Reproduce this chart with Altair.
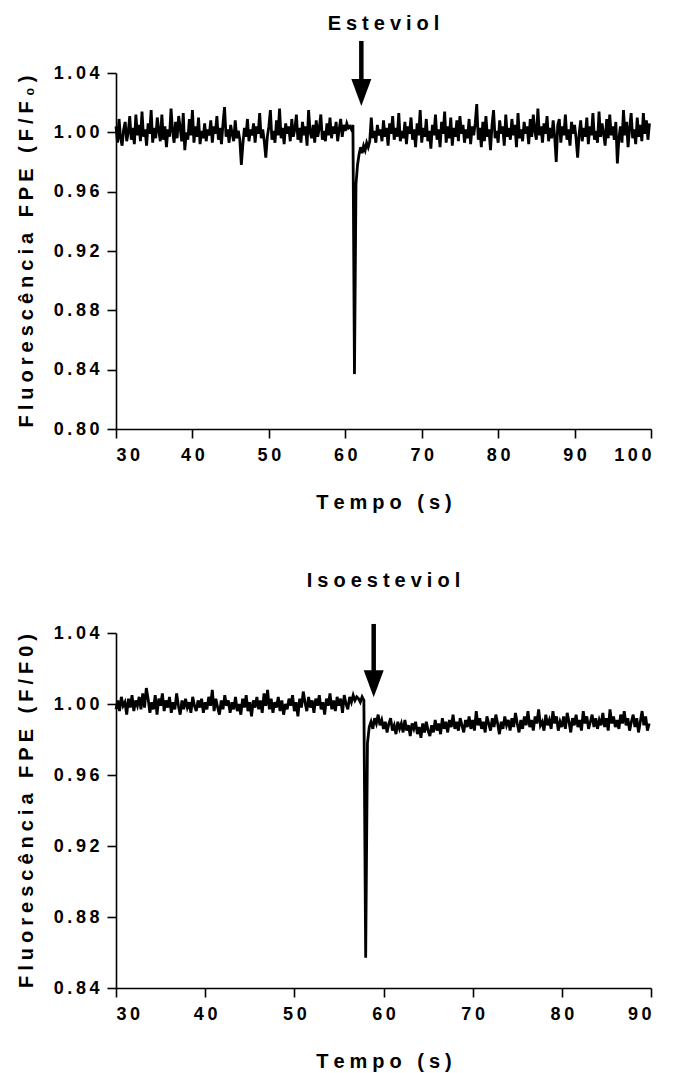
import altair as alt
import pandas as pd

# ---------------- data ----------------
top_t0 = 30.0
top_step = 0.2
top_values = [
    1.004, 0.993, 1.009, 0.996, 0.991, 1.002, 1.007, 0.994, 1.000, 1.011,
    0.995, 1.003, 0.992, 1.012, 0.998, 1.005, 0.994, 1.014, 0.997, 1.002,
    0.991, 1.006, 0.999, 1.015, 0.993, 1.003, 0.996, 1.010, 1.001, 0.994,
    1.012, 0.995, 1.004, 0.990, 1.002, 0.997, 1.016, 1.001, 0.993, 1.007,
    0.996, 1.011, 1.003, 0.994, 1.013, 0.988, 1.000, 0.995, 1.009, 0.998,
    1.015, 0.993, 1.004, 0.997, 1.010, 0.992, 1.001, 0.996, 1.006, 0.994,
    1.002, 0.998, 1.008, 0.993, 1.004, 0.999, 1.011, 0.995, 1.003, 0.992,
    1.006, 1.017, 0.997, 1.002, 0.993, 1.005, 0.999, 0.994, 1.008, 0.996,
    1.001, 0.995, 0.978, 0.992, 1.003, 0.997, 1.009, 0.994, 1.002, 0.998,
    1.006, 0.993, 1.004, 0.999, 1.013, 0.996, 1.002, 0.994, 0.983, 0.997,
    1.004, 1.015, 0.995, 1.001, 0.993, 1.008, 0.998, 1.016, 0.996, 1.003,
    0.992, 1.006, 0.999, 1.004, 0.994, 1.009, 0.997, 1.002, 1.012, 0.995,
    1.003, 0.993, 1.007, 0.998, 1.004, 0.991, 1.015, 1.000, 0.996, 1.005,
    0.993, 1.008, 0.997, 1.003, 1.012, 0.995, 1.001, 0.994, 1.006, 0.998,
    1.010, 0.996, 1.004, 0.999, 1.007, 0.994, 1.002, 1.009, 0.997, 1.005,
    1.001, 1.006, 1.003, 1.004, 1.002, 1.005, 0.837, 0.965, 0.978, 0.985,
    0.990, 0.986, 0.991, 0.988, 0.993, 0.990, 0.994, 1.010, 0.996, 1.001,
    0.993, 1.005, 0.998, 1.002, 0.994, 1.008, 0.997, 1.003, 0.991, 1.006,
    0.999, 1.011, 0.995, 1.003, 0.997, 1.013, 0.994, 1.001, 0.996, 1.007,
    0.992, 1.004, 0.999, 1.010, 0.995, 1.002, 0.990, 1.006, 0.998, 1.015,
    0.993, 1.003, 0.997, 1.009, 0.994, 1.001, 0.989, 1.005, 0.998, 1.012,
    0.995, 1.002, 0.990, 1.007, 0.999, 1.014, 0.993, 1.004, 0.996, 1.010,
    0.991, 1.003, 0.997, 1.008, 0.994, 1.011, 0.999, 1.005, 0.993, 1.002,
    0.996, 1.009, 0.992, 1.004, 0.998, 1.006, 1.019, 0.995, 1.003, 0.990,
    1.007, 0.994, 1.011, 0.997, 1.002, 0.988, 1.005, 1.015, 0.996, 1.001,
    0.993, 1.008, 0.999, 1.004, 0.991, 1.012, 0.997, 1.003, 0.995, 1.009,
    0.998, 1.005, 0.990, 1.013, 0.996, 1.002, 0.994, 1.007, 0.999, 1.004,
    0.992, 1.009, 0.997, 1.012, 1.001, 0.995, 1.016, 0.998, 1.004, 0.993,
    1.006, 0.999, 1.011, 0.994, 1.003, 0.996, 1.008, 0.997, 0.980, 1.005,
    1.009, 0.993, 1.004, 0.998, 1.012, 0.995, 1.002, 0.991, 1.007, 0.999,
    1.005, 0.996, 0.983, 0.999, 1.008, 0.994, 1.003, 0.997, 1.010, 0.992,
    1.004, 0.998, 1.013, 0.995, 1.001, 0.993, 1.014, 0.997, 1.006, 0.999,
    0.991, 1.009, 0.996, 1.012, 0.998, 1.004, 0.995, 1.007, 0.979, 0.996,
    1.004, 0.993, 1.015, 0.998, 1.007, 0.990, 1.003, 1.013, 0.996, 1.002,
    0.992, 1.010, 0.997, 1.005, 0.994, 1.013, 0.999, 1.008, 0.995, 1.006,
]

bot_t0 = 30.0
bot_step = 0.2
bot_values = [
    0.997, 1.002, 0.996, 1.004, 0.999, 1.001, 0.994, 1.003, 0.998, 1.005,
    0.996, 1.002, 0.999, 1.004, 0.997, 1.006, 0.998, 1.009, 1.003, 0.995,
    1.001, 0.997, 1.005, 0.994, 1.003, 0.999, 1.006, 0.996, 1.002, 0.998,
    1.004, 0.995, 1.001, 0.997, 1.006, 0.999, 0.994, 1.002, 0.997, 1.003,
    0.998, 1.001, 0.995, 1.004, 0.999, 0.996, 1.002, 0.998, 1.003, 0.995,
    1.001, 0.997, 1.004, 0.999, 1.008, 0.996, 1.003, 0.998, 0.994, 1.002,
    0.997, 1.005, 0.999, 1.002, 0.995, 1.001, 0.997, 1.004, 0.996, 1.000,
    0.994, 1.003, 0.998, 1.005, 0.996, 1.001, 0.993, 1.002, 0.998, 1.004,
    0.997, 1.002, 0.995, 1.006, 0.999, 1.008, 0.997, 1.003, 0.995, 1.001,
    0.998, 1.004, 0.996, 1.002, 0.994, 1.000, 0.997, 1.003, 0.999, 1.005,
    0.996, 1.001, 0.993, 1.003, 0.998, 1.007, 1.001, 0.996, 1.004, 0.998,
    1.002, 0.995, 1.003, 0.999, 1.005, 0.997, 1.001, 0.994, 1.003, 0.999,
    1.006, 0.997, 1.002, 0.996, 1.004, 0.999, 1.003, 0.995, 1.005, 1.000,
    0.997, 1.004, 1.001, 1.005, 1.002, 1.004, 1.003, 1.001, 1.004, 1.002,
    0.857, 0.978, 0.987, 0.990, 0.986, 0.992, 0.989, 0.994, 0.988, 0.991,
    0.986, 0.990, 0.984, 0.989, 0.992, 0.985, 0.988, 0.983, 0.990, 0.986,
    0.989, 0.984, 0.991, 0.985, 0.988, 0.982, 0.989, 0.986, 0.990, 0.983,
    0.987, 0.981, 0.989, 0.984, 0.990, 0.985, 0.982, 0.988, 0.984, 0.991,
    0.985, 0.989, 0.983, 0.992, 0.986, 0.990, 0.984, 0.991, 0.987, 0.994,
    0.986, 0.990, 0.985, 0.992, 0.988, 0.984, 0.991, 0.987, 0.993, 0.986,
    0.991, 0.985, 0.996, 0.988, 0.992, 0.986, 0.990, 0.984, 0.993, 0.989,
    0.985, 0.992, 0.987, 0.994, 0.989, 0.983, 0.990, 0.986, 0.993, 0.988,
    0.991, 0.985, 0.992, 0.987, 0.995, 0.989, 0.984, 0.991, 0.986, 0.993,
    0.988, 0.996, 0.987, 0.991, 0.985, 0.993, 0.989, 0.997, 0.988, 0.990,
    0.985, 0.994, 0.988, 0.991, 0.986, 0.996, 0.989, 0.993, 0.985, 0.990,
    0.987, 0.993, 0.986, 0.995, 0.990, 0.984, 0.992, 0.988, 0.994, 0.987,
    0.991, 0.985, 0.996, 0.989, 0.993, 0.986, 0.990, 0.994, 0.987, 0.992,
    0.986, 0.991, 0.988, 0.995, 0.987, 0.992, 0.985, 0.997, 0.989, 0.993,
    0.987, 0.991, 0.986, 0.994, 0.989, 0.996, 0.988, 0.992, 0.985, 0.990,
    0.994, 0.987, 0.992, 0.984, 0.990, 0.996, 0.988, 0.993, 0.985, 0.989,
]

top_x_ticks = [30, 40, 50, 60, 70, 80, 90, 100]
top_y_ticks = [0.80, 0.84, 0.88, 0.92, 0.96, 1.00, 1.04]
bot_x_ticks = [30, 40, 50, 60, 70, 80, 90]
bot_y_ticks = [0.84, 0.88, 0.92, 0.96, 1.00, 1.04]

# arrow annotations (x position, shaft top, shaft bottom, head centre)
top_arrow = {"x": [62.1], "y_top": [1.0616], "y_base": [1.034], "y_head": [1.0269]}
bot_arrow = {"x": [58.9], "y_top": [1.0451], "y_base": [1.016], "y_head": [1.0114]}

FONT = "Liberation Sans"
TGAP = "\u2005"   # letter gap for titles
LGAP = "\u2009"   # letter gap for tick labels


def spaced(s):
    return TGAP.join(s)


def panel(t0, step, values, arrow, title, title_offset, xdom, ydom, xticks, yticks, ytitle, w, h):
    df = pd.DataFrame({"t": [round(t0 + step * i, 3) for i in range(len(values))], "v": values})
    adf = pd.DataFrame(arrow)
    xs = alt.Scale(domain=xdom, nice=False, zero=False)
    ys = alt.Scale(domain=ydom, nice=False, zero=False)
    xa = alt.Axis(values=xticks, title=spaced("Tempo (s)"),
                  labelExpr=f"join(split(format(datum.value, 'd'), ''), '{LGAP}')")
    ya = alt.Axis(values=yticks, title=ytitle,
                  labelExpr=f"join(split(format(datum.value, '.2f'), ''), '{LGAP}')")
    line = alt.Chart(df).mark_line(color="black", strokeWidth=2.8).encode(
        x=alt.X("t:Q", scale=xs, axis=xa),
        y=alt.Y("v:Q", scale=ys, axis=ya),
    )
    shaft = alt.Chart(adf).mark_rule(color="black", strokeWidth=4.5).encode(
        x=alt.X("x:Q", scale=xs, axis=xa),
        y=alt.Y("y_top:Q", scale=ys, axis=ya),
        y2="y_base:Q",
    )
    head = alt.Chart(adf).mark_point(
        shape="M-0.74,-1L0.74,-1L0,1Z", filled=True, color="black",
        opacity=1, size=729, strokeWidth=0,
    ).encode(
        x=alt.X("x:Q", scale=xs, axis=xa),
        y=alt.Y("y_head:Q", scale=ys, axis=ya),
    )
    return alt.layer(line, shaft, head).properties(
        width=w, height=h,
        title=alt.TitleParams(spaced(title), anchor="middle", frame="group", offset=title_offset),
    )


top = panel(top_t0, top_step, top_values, top_arrow, "Esteviol", 5, [30, 100], [0.80, 1.04],
            top_x_ticks, top_y_ticks, spaced("Fluorescência FPE (F/F\u2080)"), 535, 356)
bot = panel(bot_t0, bot_step, bot_values, bot_arrow, "Isoesteviol", 31, [30, 90], [0.84, 1.04],
            bot_x_ticks, bot_y_ticks, spaced("Fluorescência FPE (F/F0)"), 535, 355)

chart = alt.vconcat(top, bot, spacing=58).properties(
    padding={"left": 16, "top": 13, "right": 10, "bottom": 5}
).configure_view(stroke=None).configure_axis(
    labelFont=FONT, labelFontSize=18, labelFontWeight="bold", labelColor="black",
    titleFont=FONT, titleFontSize=20, titleFontWeight="bold", titleColor="black",
    domainColor="black", domainWidth=1.6, tickColor="black", tickWidth=1.6, tickSize=9,
    labelPadding=8, grid=False,
).configure_axisY(titlePadding=17).configure_axisX(titlePadding=28).configure_title(
    font=FONT, fontSize=20, fontWeight="bold", color="black",
)

chart.save("out.html", embed_options={"renderer": "svg", "actions": False})
